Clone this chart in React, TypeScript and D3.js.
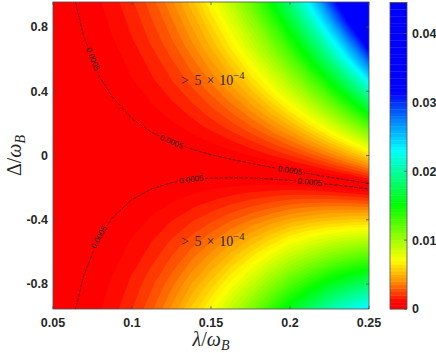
import { useMemo } from "react";
import * as d3 from "d3";

const WIDTH = 436;
const HEIGHT = 353;
const PLOT = { left: 53, right: 369, top: 2, bottom: 309 };
const CBAR = { left: 390, right: 407, top: 2.5, bottom: 309 };

// lambda / omega_B columns where the field was read
const lambdas = [0.05, 0.0625, 0.075, 0.0875, 0.1, 0.1125, 0.125, 0.1375, 0.15, 0.1625, 0.175, 0.1875, 0.2, 0.2125, 0.225, 0.2375, 0.25];
// Delta / omega_B of the low valley, per column
const valleyDelta = [0, 0, -0.005, -0.015, -0.025, -0.035, -0.045, -0.057, -0.07, -0.082, -0.095, -0.11, -0.125, -0.14, -0.157, -0.173, -0.19];
// rows: distance from the valley (Delta / omega_B)
const offsets = [-1.0, -0.75, -0.5, -0.25, 0, 0.25, 0.5, 0.75, 1.0, 1.2];
// field values in units of 1e-3, one line per lambda, one entry per offset
const field = [
  [0.245, 0.184, 0.123, 0.061, 0, 0.061, 0.123, 0.184, 0.245, 0.294],
  [0.479, 0.359, 0.24, 0.12, 0, 0.12, 0.24, 0.359, 0.48, 0.575],
  [0.827, 0.62, 0.414, 0.207, 0, 0.207, 0.414, 0.62, 0.829, 0.995],
  [1.379, 1.022, 0.673, 0.332, 0, 0.328, 0.658, 0.988, 1.318, 1.583],
  [2.156, 1.58, 1.029, 0.502, 0, 0.491, 0.983, 1.477, 1.973, 2.37],
  [3.21, 2.329, 1.5, 0.724, 0, 0.7, 1.403, 2.109, 2.82, 3.39],
  [4.594, 3.302, 2.105, 1.005, 0, 0.961, 1.929, 2.905, 3.888, 4.68],
  [6.369, 4.538, 2.866, 1.353, 0, 1.281, 2.577, 3.887, 5.212, 6.282],
  [8.269, 5.891, 3.721, 1.757, 0, 1.667, 3.361, 5.082, 6.829, 8.247],
  [10.597, 7.537, 4.752, 2.239, 0, 2.126, 4.299, 6.518, 8.785, 10.632],
  [13.235, 9.414, 5.935, 2.797, 0, 2.665, 5.41, 8.233, 11.134, 13.513],
  [16.408, 11.652, 7.332, 3.448, 0, 3.294, 6.716, 10.265, 13.942, 16.975],
  [19.914, 14.141, 8.898, 4.185, 0, 4.02, 8.241, 12.663, 17.286, 21.128],
  [23.112, 16.386, 10.292, 4.83, 0, 4.855, 10.018, 15.487, 21.262, 26.104],
  [26.702, 18.871, 11.811, 5.52, 0, 5.811, 12.078, 18.804, 25.987, 32.064],
  [29.697, 20.988, 13.135, 6.139, 0, 6.898, 14.465, 22.7, 31.603, 39.206],
  [32.647, 23.072, 14.44, 6.749, 0, 8.135, 17.227, 27.276, 38.281, 47.775],
];

const xTicks = [0.05, 0.1, 0.15, 0.2, 0.25];
const yTicks = [-0.8, -0.4, 0, 0.4, 0.8];
const cbarTicks = [0, 0.01, 0.02, 0.03, 0.04];
const cbarMax = 0.0445;
const levelStep = 0.0005;
const isoLevel = 0.0005;
// where the "0.0005" labels sit: lambda and side of the valley (+1 above, -1 below)
const labelLambdas = [0.0766, 0.1297, 0.2038, 0.0785, 0.136, 0.212];
const labelSides = [1, 1, 1, -1, -1, -1];

const cmapStops = [0, 0.0008, 0.0037, 0.0068, 0.0108, 0.0148, 0.0188, 0.0228, 0.0272, 0.0312, 0.0445];
const cmapColors = ["#ff0000", "#ff0000", "#ff8c00", "#ffff00", "#80ff00", "#00ff00", "#00ff80", "#00ffff", "#0080ff", "#0000ff", "#0000ff"];

const TEXT = "#262626";
const AXIS = "#4d4d4d";

export default function App() {
  const x = d3.scaleLinear().domain([0.05, 0.25]).range([PLOT.left, PLOT.right]);
  const y = d3.scaleLinear().domain([-0.955, 0.955]).range([PLOT.bottom, PLOT.top]);
  const cy = d3.scaleLinear().domain([0, cbarMax]).range([CBAR.bottom, CBAR.top]);
  const color = d3.scaleLinear<string>().domain(cmapStops).range(cmapColors).clamp(true);

  const nx = lambdas.length;
  const ny = offsets.length;

  const { bands, runs, labels } = useMemo(() => {
    const values = new Array(nx * ny);
    for (let j = 0; j < ny; j++)
      for (let i = 0; i < nx; i++) values[j * nx + i] = field[i][j] * 1e-3;

    const colLam = d3.scaleLinear().domain(d3.range(nx)).range(lambdas).clamp(true);
    const rowOff = d3.scaleLinear().domain(d3.range(ny)).range(offsets).clamp(true);
    const valley = d3.scaleLinear().domain(lambdas).range(valleyDelta);

    const toData = (p: number[]) => {
      const lam = colLam(p[0] - 0.5);
      return [lam, valley(lam) + rowOff(p[1] - 0.5)];
    };
    const toPx = (p: number[]) => {
      const [lam, d] = toData(p);
      return x(lam).toFixed(2) + "," + y(d).toFixed(2);
    };

    const levels = d3.range(1, Math.round(cbarMax / levelStep) + 1).map((k) => k * levelStep);
    const bands = d3
      .contours()
      .size([nx, ny])
      .thresholds(levels)(values)
      .map((mp) => ({
        value: mp.value,
        d: mp.coordinates
          .map((poly) => poly.map((ring) => "M" + ring.map(toPx).join("L") + "Z").join(""))
          .join(""),
      }));

    // the 0.0005 line, without the parts that run along the grid border
    const iso = d3.contours().size([nx, ny]).thresholds([isoLevel])(values)[0];
    const onEdge = (p: number[]) => p[0] === 0 || p[0] === nx || p[1] === 0 || p[1] === ny;
    const runs: any[] = [];
    iso.coordinates.forEach((poly) =>
      poly.forEach((ring) => {
        let pts = ring;
        const f = ring[0], l = ring[ring.length - 1];
        if (f[0] === l[0] && f[1] === l[1]) pts = ring.slice(0, -1);
        const start = pts.findIndex(onEdge);
        if (start < 0) {
          runs.push([...pts, pts[0]]);
          return;
        }
        let cur: number[][] = [];
        for (let k = 0; k <= pts.length; k++) {
          const p = pts[(start + k) % pts.length];
          if (onEdge(p)) {
            if (cur.length > 1) runs.push(cur);
            cur = [];
          } else cur.push(p);
        }
        if (cur.length > 1) runs.push(cur);
      })
    );
    const runPts = runs.map((r) =>
      r.map((p: number[]) => {
        const [lam, d] = toData(p);
        return { lam, d, px: x(lam), py: y(d) };
      })
    );

    const labels = labelLambdas.map((target, li) => {
      let best = { r: 0, k: 0, dist: Infinity };
      runPts.forEach((r, ri) =>
        r.forEach((q, k) => {
          if (labelSides[li] * (q.d - valley(q.lam)) <= 0) return;
          const dist = Math.abs(q.lam - target);
          if (dist < best.dist) best = { r: ri, k, dist };
        })
      );
      const r = runPts[best.r];
      const a = r[Math.max(0, best.k - 1)];
      const b = r[Math.min(r.length - 1, best.k + 1)];
      let angle = (Math.atan2(b.py - a.py, b.px - a.px) * 180) / Math.PI;
      if (angle > 90) angle -= 180;
      if (angle < -90) angle += 180;
      return { px: r[best.k].px, py: r[best.k].py, angle };
    });

    return {
      bands,
      runs: runPts.map((r) => "M" + r.map((q) => q.px.toFixed(2) + "," + q.py.toFixed(2)).join("L")),
      labels,
    };
  }, []);

  const cbarLevels = d3.range(0, Math.round(cbarMax / levelStep)).map((k) => k * levelStep);
  const tickFont = { fontFamily: "Liberation Sans, Arial, sans-serif", fontSize: 12.5, fontWeight: 700, fill: TEXT };
  const mathFont = "Liberation Serif, Times New Roman, serif";

  const note = (d: number) => (
    <text x={x(0.131)} y={y(d)} fontFamily={mathFont} fontSize={14} fill={TEXT}>
      <tspan>&gt;</tspan>
      <tspan dx={5.5}>5</tspan>
      <tspan dx={5}>×</tspan>
      <tspan dx={5}>10</tspan>
      <tspan dy={-6} fontSize={10.5}>−4</tspan>
    </text>
  );

  return (
    <svg width={WIDTH} height={HEIGHT} style={{ position: "absolute", left: 0, top: 0, background: "#fff" }}>
      <defs>
        <clipPath id="plotClip">
          <rect x={PLOT.left} y={PLOT.top} width={PLOT.right - PLOT.left} height={PLOT.bottom - PLOT.top} />
        </clipPath>
        <mask id="labelGaps" maskUnits="userSpaceOnUse" x={0} y={0} width={WIDTH} height={HEIGHT}>
          <rect width={WIDTH} height={HEIGHT} fill="white" />
          {labels.map((l, i) => (
            <rect key={i} x={-14} y={-3.5} width={28} height={7} fill="black"
              transform={`translate(${l.px},${l.py}) rotate(${l.angle})`} />
          ))}
        </mask>
      </defs>

      <g clipPath="url(#plotClip)">
        <rect x={PLOT.left} y={PLOT.top} width={PLOT.right - PLOT.left} height={PLOT.bottom - PLOT.top} fill={color(0)} />
        {bands.map((b, i) => (
          <path key={i} d={b.d} fill={color(b.value)} fillRule="evenodd" />
        ))}
        <g mask="url(#labelGaps)">
          {runs.map((d, i) => (
            <path key={i} d={d} fill="none" stroke="#1a1a1a" strokeWidth={0.7} strokeDasharray="3.5 1.5" />
          ))}
        </g>
        {labels.map((l, i) => (
          <text key={i} transform={`translate(${l.px},${l.py}) rotate(${l.angle})`} textAnchor="middle"
            dominantBaseline="central" fontFamily="Liberation Sans, Arial, sans-serif" fontSize={8} fill="#1a1a1a">
            0.0005
          </text>
        ))}
        {note(0.44)}
        {note(-0.56)}
      </g>

      {/* axes box and ticks */}
      <rect x={PLOT.left} y={PLOT.top} width={PLOT.right - PLOT.left} height={PLOT.bottom - PLOT.top}
        fill="none" stroke={AXIS} strokeWidth={0.8} />
      {xTicks.map((t) => (
        <g key={t}>
          <line x1={x(t)} x2={x(t)} y1={PLOT.bottom} y2={PLOT.bottom - 3} stroke={AXIS} strokeWidth={0.8} />
          <line x1={x(t)} x2={x(t)} y1={PLOT.top} y2={PLOT.top + 3} stroke={AXIS} strokeWidth={0.8} />
          <text x={x(t)} y={327} textAnchor="middle" {...tickFont}>{String(t)}</text>
        </g>
      ))}
      {yTicks.map((t) => (
        <g key={t}>
          <line x1={PLOT.left} x2={PLOT.left + 3} y1={y(t)} y2={y(t)} stroke={AXIS} strokeWidth={0.8} />
          <line x1={PLOT.right} x2={PLOT.right - 3} y1={y(t)} y2={y(t)} stroke={AXIS} strokeWidth={0.8} />
          <text x={48} y={y(t) + 4.4} textAnchor="end" {...tickFont}>{String(t)}</text>
        </g>
      ))}

      {/* axis titles */}
      <text x={(PLOT.left + PLOT.right) / 2} y={346} textAnchor="middle" fontFamily={mathFont} fontSize={20} fill={TEXT}>
        <tspan fontStyle="italic">λ</tspan>
        <tspan>/</tspan>
        <tspan fontStyle="italic">ω</tspan>
        <tspan fontStyle="italic" fontSize={14} dy={3.5}>B</tspan>
      </text>
      <text transform={`translate(21,${(PLOT.top + PLOT.bottom) / 2}) rotate(-90)`} textAnchor="middle"
        fontFamily={mathFont} fontSize={20} fill={TEXT}>
        <tspan>Δ</tspan>
        <tspan>/</tspan>
        <tspan fontStyle="italic">ω</tspan>
        <tspan fontStyle="italic" fontSize={14} dy={3.5}>B</tspan>
      </text>

      {/* colorbar */}
      {cbarLevels.map((v) => (
        <rect key={v} x={CBAR.left} width={CBAR.right - CBAR.left} y={cy(v + levelStep)}
          height={cy(v) - cy(v + levelStep) + 0.3} fill={color(v)} />
      ))}
      <rect x={CBAR.left} y={CBAR.top} width={CBAR.right - CBAR.left} height={CBAR.bottom - CBAR.top}
        fill="none" stroke={AXIS} strokeWidth={0.8} />
      {cbarTicks.map((t) => (
        <g key={t}>
          <line x1={CBAR.right} x2={CBAR.right - 3} y1={cy(t)} y2={cy(t)} stroke={AXIS} strokeWidth={0.8} />
          <text x={412} y={cy(t) + 4.4} {...tickFont}>{String(t)}</text>
        </g>
      ))}
    </svg>
  );
}
